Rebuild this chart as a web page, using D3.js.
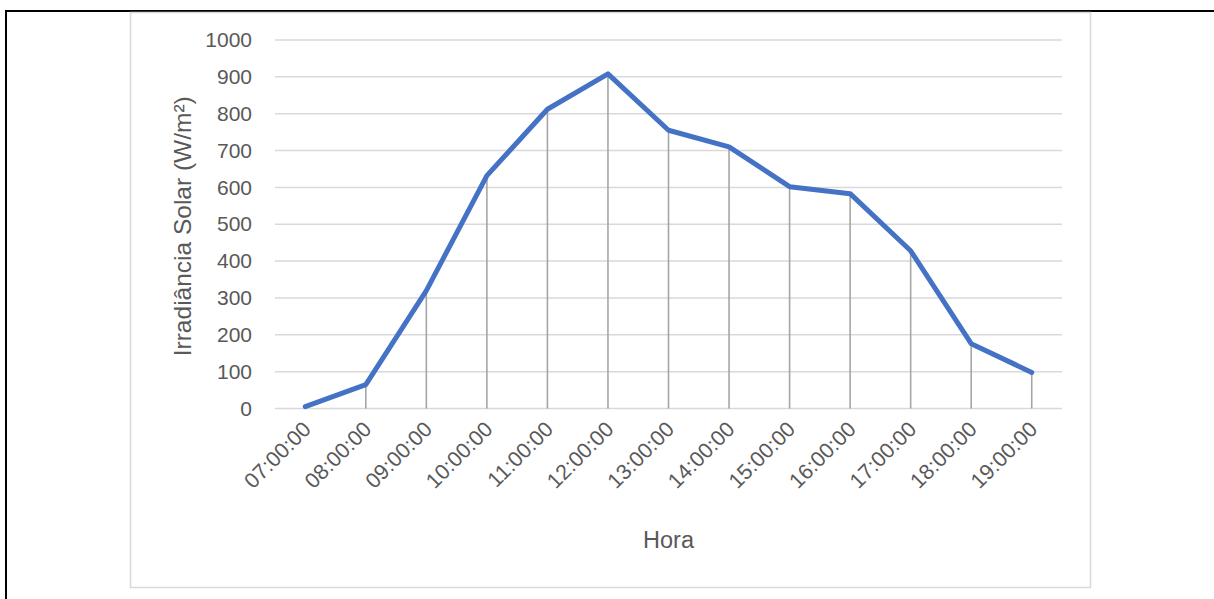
<!DOCTYPE html>
<html>
<head>
<meta charset="utf-8">
<script src="https://cdn.jsdelivr.net/npm/d3@7"></script>
<style>
  html, body { margin: 0; padding: 0; background: #fff; }
  svg { display: block; }
  text { font-family: "Liberation Sans", Arial, sans-serif; fill: #595959; }
</style>
</head>
<body>
<svg id="chart" width="1214" height="599"></svg>
<script>
// Hourly solar irradiance readings
const hours = ["07:00:00", "08:00:00", "09:00:00", "10:00:00", "11:00:00", "12:00:00",
               "13:00:00", "14:00:00", "15:00:00", "16:00:00", "17:00:00", "18:00:00", "19:00:00"];
const irradiance = [5, 65, 320, 632, 812, 908, 755, 710, 602, 583, 428, 176, 98];
const yTicks = [0, 100, 200, 300, 400, 500, 600, 700, 800, 900, 1000];

const svg = d3.select("#chart");

// Page frame lines (top and left)
svg.append("line").attr("x1", 5).attr("x2", 1214).attr("y1", 11).attr("y2", 11)
  .attr("stroke", "#000").attr("stroke-width", 2);
svg.append("line").attr("x1", 6).attr("x2", 6).attr("y1", 10).attr("y2", 599)
  .attr("stroke", "#000").attr("stroke-width", 2);

// Chart area border
svg.append("rect").attr("x", 130.5).attr("y", 12.5).attr("width", 960).attr("height", 575)
  .attr("fill", "#fff").attr("stroke", "#d9d9d9").attr("stroke-width", 1.5);

const plot = { left: 275, right: 1062, top: 40, bottom: 408.5 };

const x = d3.scaleBand().domain(hours).range([plot.left, plot.right]);
const y = d3.scaleLinear().domain([0, 1000]).range([plot.bottom, plot.top]);
const cx = h => x(h) + x.bandwidth() / 2;

// Horizontal gridlines
svg.append("g").selectAll("line").data(yTicks).join("line")
  .attr("x1", plot.left).attr("x2", plot.right)
  .attr("y1", d => y(d)).attr("y2", d => y(d))
  .attr("stroke", "#d9d9d9").attr("stroke-width", 1.5);

// Y axis labels
const yAxis = svg.append("g").attr("transform", `translate(${plot.left},0)`)
  .call(d3.axisLeft(y).tickValues(yTicks).tickSize(0).tickPadding(23).tickFormat(d3.format("d")));
yAxis.select(".domain").remove();
yAxis.selectAll("text").attr("font-size", 21).attr("fill", "#595959")
  .attr("font-family", "Liberation Sans, Arial, sans-serif");

// Drop lines from each point to the baseline
svg.append("g").selectAll("line").data(hours).join("line")
  .attr("x1", d => cx(d)).attr("x2", d => cx(d))
  .attr("y1", (d, i) => y(irradiance[i])).attr("y2", y(0))
  .attr("stroke", "#a6a6a6").attr("stroke-width", 1.6);

// X axis labels, rotated
const xAxis = svg.append("g").attr("transform", `translate(0,${plot.bottom})`)
  .call(d3.axisBottom(x).tickSize(0).tickPadding(0));
xAxis.select(".domain").remove();
xAxis.selectAll("text")
  .attr("font-size", 21.5).attr("fill", "#595959")
  .attr("font-family", "Liberation Sans, Arial, sans-serif")
  .attr("text-anchor", "end")
  .attr("dy", "0")
  .attr("transform", "translate(7,22) rotate(-45)");

// Series line
const line = d3.line().x((d, i) => cx(hours[i])).y(d => y(d));
svg.append("path").datum(irradiance)
  .attr("d", line)
  .attr("fill", "none").attr("stroke", "#4472c4").attr("stroke-width", 5)
  .attr("stroke-linejoin", "round").attr("stroke-linecap", "round");

// Axis titles
svg.append("text").attr("x", (plot.left + plot.right) / 2).attr("y", 548)
  .attr("text-anchor", "middle").attr("font-size", 23.5).text("Hora");
svg.append("text")
  .attr("transform", `translate(191,${(plot.top + plot.bottom) / 2 + 2}) rotate(-90)`)
  .attr("text-anchor", "middle").attr("font-size", 24.5).text("Irradiância Solar (W/m²)");
</script>
</body>
</html>
